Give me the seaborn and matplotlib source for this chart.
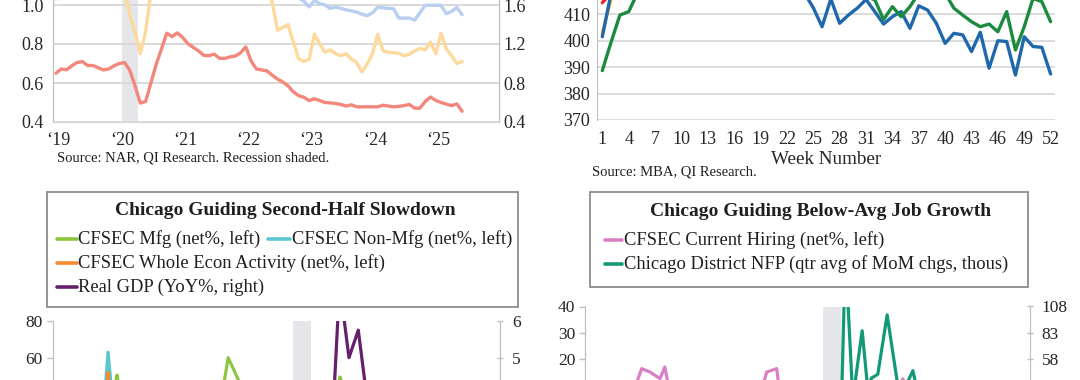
import matplotlib
matplotlib.use("Agg")
import matplotlib.pyplot as plt
from matplotlib.lines import Line2D
from matplotlib.patches import Rectangle
import pandas as pd
import seaborn as sns

W, H = 1080, 380

# ---------- top-left: monthly ratios, index 0 = Jan 2019 ----------
tl_months = list(range(78))
tl_red = [0.650, 0.672, 0.668, 0.688, 0.705, 0.710, 0.690, 0.690, 0.678, 0.667,
          0.672, 0.688, 0.700, 0.705, 0.665, 0.585, 0.497, 0.505, 0.600, 0.695,
          0.774, 0.855, 0.838, 0.857, 0.834, 0.802, 0.783, 0.765, 0.742, 0.740,
          0.748, 0.727, 0.726, 0.734, 0.738, 0.755, 0.785, 0.712, 0.672, 0.667,
          0.662, 0.640, 0.620, 0.605, 0.585, 0.555, 0.535, 0.527, 0.510, 0.519,
          0.510, 0.500, 0.498, 0.495, 0.490, 0.482, 0.488, 0.478, 0.478, 0.478,
          0.478, 0.478, 0.486, 0.482, 0.478, 0.480, 0.484, 0.490, 0.471, 0.471,
          0.505, 0.528, 0.511, 0.500, 0.492, 0.484, 0.493, 0.455]
tl_yellow = [1.66, 1.74, 1.78, 1.80, 1.82, 1.85, 1.83, 1.80, 1.78, 1.76,
             1.75, 1.78, 1.80, 1.75, 1.50, 1.32, 1.10, 1.33, 1.72, 1.95,
             2.05, 2.10, 2.08, 2.05, 2.00, 1.98, 1.95, 1.92, 1.90, 1.88,
             1.86, 1.85, 1.84, 1.84, 1.83, 1.82, 1.84, 1.88, 1.80, 1.78,
             1.74, 1.63, 1.34, 1.37, 1.40, 1.22, 1.05, 1.02, 1.045, 1.30,
             1.20, 1.115, 1.14, 1.10, 1.08, 1.10, 1.045, 1.01, 0.915, 0.995,
             1.10, 1.30, 1.13, 1.115, 1.11, 1.105, 1.08, 1.095, 1.13, 1.155,
             1.14, 1.22, 1.10, 1.31, 1.15, 1.08, 1.00, 1.02]
tl_blue = [1.92, 1.93, 1.95, 1.94, 1.96, 1.95, 1.93, 1.92, 1.94, 1.93,
           1.92, 1.95, 1.96, 1.97, 1.95, 1.90, 1.88, 1.93, 1.98, 2.02,
           2.05, 2.04, 2.03, 2.02, 2.01, 1.99, 1.97, 1.96, 1.95, 1.94,
           1.93, 1.92, 1.91, 1.90, 1.92, 1.93, 1.94, 1.96, 1.90, 1.86,
           1.84, 1.82, 1.80, 1.78, 1.76, 1.74, 1.67, 1.638, 1.58, 1.648,
           1.614, 1.60, 1.565, 1.579, 1.565, 1.55, 1.54, 1.528, 1.505, 1.49,
           1.52, 1.578, 1.57, 1.566, 1.562, 1.466, 1.466, 1.466, 1.445, 1.52,
           1.597, 1.597, 1.597, 1.597, 1.51, 1.534, 1.575, 1.50]
tl_year_pos = [0.5, 12.5, 24.5, 36.5, 48.5, 60.5, 72.5]
tl_year_labels = ["\u201819", "\u201820", "\u201821", "\u201822", "\u201823", "\u201824", "\u201825"]

# ---------- top-right: weekly index ----------
weeks = list(range(1, 53))
wk_green = [388.7, 399.5, 409.7, 411.0, 418, 422, 425, 428, 430, 433,
            436, 438, 437, 439, 440, 437, 435, 433, 431, 430,
            428, 427, 425, 424, 422, 421, 420, 419, 418, 417,
            416.5, 415.5, 408.0, 412.9, 409.1, 412.9, 418, 420, 421, 418,
            412.3, 409.7, 407.2, 405.3, 406.3, 403.4, 411.0, 396.5, 405.3, 416.0,
            414.8, 407.2]
wk_blue = [401.5, 418, 424, 428, 431, 434, 436, 438, 440, 441,
           442, 443, 444, 443, 442, 441, 440, 438, 436, 434,
           431, 428, 425, 418, 412.5, 405.3, 415.8, 406.6, 409.7, 412.3,
           415.6, 411.0, 406.3, 409.1, 411.0, 404.7, 413.2, 411.6, 406.6, 399.0,
           402.8, 402.2, 395.9, 403.2, 389.6, 400.0, 399.7, 387.0, 401.5, 397.8,
           397.5, 387.4]
wk_yellow = [402.8, 416, 422, 426, 429, 431, 433, 436, 438, 440,
             441, 443, 444, 445, 446, 447, 446, 445, 444, 443,
             442, 441, 440, 439, 438, 437, 436, 435, 434, 433,
             432, 431, 430, 430, 429, 428, 427, 426, 425, 425,
             424, 423, 423, 422, 421, 421, 420, 420, 421, 422,
             423, 424]
wk_red = [414.4, 418, 424, 428, 432, 435, 438, 440, 442, 444,
          446, 448, 449, 450, 451, 452, 452, 451, 450, 449,
          448, 447, 446, 445, 444, 443, 442, 441, 440, 439,
          438, 437, 436, 435, 434, 433, 432, 431, 430, 430,
          429, 428, 427, 426, 425, 425, 424, 424, 425, 426,
          427, 428]
week_ticks = list(range(1, 53, 3))

# ---------- bottom-left: CFSEC (net%) and GDP yoy ----------
mfg_x = [2013.75, 2014.3, 2014.8, 2015.1, 2015.28, 2015.45, 2016.0, 2016.6, 2017.2, 2017.7,
         2018.1, 2018.26, 2018.6, 2019.0, 2019.6, 2020.25, 2020.6, 2021.0, 2021.26, 2021.5,
         2022.0, 2022.6, 2023.2, 2023.8, 2024.4, 2025.0, 2025.3]
mfg = [10, 20, 15, 30, 50.5, 32, 5, 15, 25, 35,
       40, 60, 45, 20, 0, -38, 10, 30, 49.5, 35,
       20, 5, -10, -5, 0, 10, 5]
nonmfg_x = [2013.75, 2014.25, 2014.6, 2014.92, 2015.04, 2015.17, 2015.6, 2016.2, 2016.8, 2017.4,
            2018.0, 2018.6, 2019.2, 2019.8, 2020.25, 2020.6, 2021.2, 2021.8, 2022.4, 2023.0,
            2023.6, 2024.2, 2024.8, 2025.3]
nonmfg = [20, 28, 25, 32, 63, 34, 22, 18, 30, 26,
          35, 30, 15, 10, -35, 20, 40, 25, 10, 5,
          -5, 0, 8, 2]
whole_x = [2013.75, 2014.3, 2014.7, 2014.96, 2015.04, 2015.12, 2015.5, 2016.1, 2016.7, 2017.3,
           2017.9, 2018.5, 2019.1, 2019.7, 2020.25, 2020.6, 2021.2, 2021.8, 2022.4, 2023.0,
           2023.6, 2024.2, 2024.8, 2025.3]
whole = [15, 22, 20, 30, 52, 30, 18, 12, 22, 20,
         30, 28, 12, 8, -36, 15, 35, 22, 8, 2,
         -8, -4, 5, 0]
gdp_quarters = pd.period_range("2013Q4", "2025Q2", freq="Q")
gdp_yoy = [2.6, 1.5, 2.6, 3.1, 2.6, 3.6, 3.3, 2.4, 2.0, 1.6,
           1.3, 1.6, 2.0, 2.0, 2.2, 2.4, 2.7, 2.9, 3.1, 3.1,
           2.5, 2.3, 2.1, 2.4, 2.6, 0.6, -7.5, -1.5, -1.1, 2.1,
           7.0, 5.0, 5.75, 3.75, 2.0, 1.9, 1.3, 2.3, 2.8, 3.2,
           3.2, 2.9, 3.0, 2.7, 2.5, 2.0, 2.1]
gdp_x = [q.year + (q.quarter - 1) / 4 for q in gdp_quarters]

# ---------- bottom-right: hiring (net%) and NFP ----------
hiring_x = [2013.75, 2014.2, 2014.55, 2014.85, 2015.14, 2015.36, 2015.63, 2015.76, 2015.95, 2016.4,
            2016.9, 2017.4, 2017.9, 2018.3, 2018.49, 2018.76, 2018.9, 2019.3, 2019.8, 2020.2,
            2020.5, 2020.9, 2021.4, 2021.9, 2022.14, 2022.4, 2022.9, 2023.4, 2023.9, 2024.4,
            2024.9, 2025.3]
hiring = [2, 8, 4, 5, 16.4, 15.1, 12.6, 17.0, 3, 6,
          0, 8, 4, 5, 15.1, 16.4, 0, 5, -5, -20,
          -35, -10, 8, 5, 12.5, 3, -5, -10, -15, -8,
          -12, -10]
nfp_x = [2020.5, 2020.6, 2020.8, 2021.05, 2021.2, 2021.3, 2021.47, 2021.72, 2021.98, 2022.12,
         2022.41, 2022.55, 2022.8, 2023.1, 2023.4, 2023.7, 2024.0, 2024.3, 2024.6, 2024.9,
         2025.2, 2025.4]
nfp = [20, 160, 20, 85, 30, 40, 43.6, 100, 39, 25,
       47, 25, 30, 20, 28, 15, 22, 10, 18, 5,
       12, 8]

sns.set_style("white")
plt.rcParams["font.family"] = ["Liberation Serif", "DejaVu Serif"]
plt.rcParams["text.color"] = "#1f1f1f"

GRID = "#d9d9d9"
SPINE = "#bfbfbf"
SHADE = "#e4e6e9"
TXT = "#262626"

fig = plt.figure(figsize=(W / 100, H / 100), dpi=100)


def box(x0, y0, x1, y1):
    # pixel box -> figure fraction rect
    return [x0 / W, 1 - y1 / H, (x1 - x0) / W, (y1 - y0) / H]


# ---------------- top-left ----------------
ax = fig.add_axes(box(53, -34, 499.3, 122))
ax2 = ax.twinx()
ax.axvspan(12.5, 15.5, color=SHADE, lw=0, zorder=0)
sns.lineplot(x=tl_months, y=tl_red, ax=ax, color="#f4877c", lw=2.4)
sns.lineplot(x=tl_months, y=tl_yellow, ax=ax2, color="#fdd99b", lw=2.4)
sns.lineplot(x=tl_months, y=tl_blue, ax=ax2, color="#b9cfef", lw=2.4)
ax.set_xlim(-0.56, 84.05)
ax.set_ylim(0.4, 1.2)
ax2.set_ylim(0.4, 2.0)
# only the ticks that fall inside the cropped view
ax.set_yticks([0.4, 0.6, 0.8, 1.0])
ax2.set_yticks([0.4, 0.8, 1.2, 1.6])
ax.set_xticks(tl_year_pos, tl_year_labels)
ax.yaxis.grid(True, color=GRID, lw=1.4)
ax.set_axisbelow(True)
for a in (ax, ax2):
    a.tick_params(length=0, labelsize=13, colors=TXT)
    a.spines["top"].set_visible(False)
    a.spines["bottom"].set_color(GRID)
    a.spines["left"].set_color(SPINE)
    a.spines["right"].set_color(SPINE)
ax.tick_params(axis="y", pad=6.8)
ax.tick_params(axis="x", pad=7.5)
ax2.tick_params(axis="y", pad=3)
fig.text(57 / W, 1 - 158 / H, "Source: NAR, QI Research. Recession shaded.",
         fontsize=10.5, ha="left", va="center")

# ---------------- top-right ----------------
ax = fig.add_axes(box(597.3, -65, 1055, 120))
sns.lineplot(x=weeks, y=wk_red, ax=ax, color="#e8262b", lw=2.4)
sns.lineplot(x=weeks, y=wk_yellow, ax=ax, color="#f9b730", lw=2.4)
sns.lineplot(x=weeks, y=wk_blue, ax=ax, color="#1f68ae", lw=2.4)
sns.lineplot(x=weeks, y=wk_green, ax=ax, color="#1e8a40", lw=2.4)
ax.set_xlim(0.43, 52.5)
ax.set_ylim(370, 440)
ax.set_yticks(range(370, 411, 10))
ax.set_xticks(week_ticks)
ax.yaxis.grid(True, color=GRID, lw=1.3)
ax.set_axisbelow(True)
ax.tick_params(length=0, labelsize=13, colors=TXT)
ax.tick_params(axis="y", pad=5)
ax.tick_params(axis="x", pad=8)
for s in ("top", "right", "bottom"):
    ax.spines[s].set_visible(False)
ax.spines["left"].set_color(SPINE)
ax.set_xlabel("Week Number", fontsize=13.8, color=TXT)
ax.xaxis.set_label_coords(0.5, -40 / 185)
ax.xaxis.label.set_va("center")
fig.text(592 / W, 1 - 172 / H, "Source: MBA, QI Research.",
         fontsize=10.5, ha="left", va="center")

# ---------------- bottom-left ----------------
ax = fig.add_axes(box(52.5, 321, 500, 541))
ax2 = ax.twinx()
ax.axvspan(2020.0, 2020.48, color=SHADE, lw=0, zorder=0)
sns.lineplot(x=mfg_x, y=mfg, ax=ax, color="#8cc63f", lw=2.3)
sns.lineplot(x=nonmfg_x, y=nonmfg, ax=ax, color="#5ac6d0", lw=2.3)
sns.lineplot(x=whole_x, y=whole, ax=ax, color="#f7892f", lw=2.3)
sns.lineplot(x=gdp_x, y=gdp_yoy, ax=ax2, color="#66206b", lw=2.3)
ax.set_xlim(2013.55, 2025.55)
ax.set_ylim(-40, 80)
ax2.set_ylim(0, 6)
ax.set_yticks([60, 80])
ax2.set_yticks([5, 6])

# ---------------- bottom-right ----------------
bx = fig.add_axes(box(585, 306.5, 1030, 517))
bx2 = bx.twinx()
bx.axvspan(2020.0, 2020.48, color=SHADE, lw=0, zorder=0)
sns.lineplot(x=hiring_x, y=hiring, ax=bx, color="#d880c6", lw=2.3)
sns.lineplot(x=nfp_x, y=nfp, ax=bx2, color="#129a78", lw=2.3)
bx.set_xlim(2013.62, 2025.55)
bx.set_ylim(-40, 40)
bx2.set_ylim(-92, 108)
bx.set_yticks([10, 20, 30, 40])
bx2.set_yticks([33, 58, 83, 108])

for a, a2 in ((ax, ax2), (bx, bx2)):
    for s in (a, a2):
        s.spines["top"].set_visible(False)
        s.spines["bottom"].set_visible(False)
        s.spines["left"].set_color(SPINE)
        s.spines["right"].set_color(SPINE)
        s.set_xticks([])
    a.tick_params(axis="y", length=4, width=1, color=SPINE, labelsize=12.5,
                  labelcolor=TXT, pad=3)
    a2.tick_params(axis="y", direction="inout", length=5, width=1, color=SPINE,
                   labelsize=12.5, labelcolor=TXT, pad=6)

# ---------------- legend boxes ----------------
def legend_box(x0, y0, x1, y1):
    fig.add_artist(Rectangle((x0 / W, 1 - y1 / H), (x1 - x0) / W, (y1 - y0) / H,
                             transform=fig.transFigure, facecolor="white",
                             edgecolor="#8c8c8c", lw=1.3, zorder=5))


def legend_entry(x, y, color, label, hlen):
    fig.add_artist(Line2D([x / W, (x + hlen) / W], [1 - y / H, 1 - y / H],
                          transform=fig.transFigure, color=color, lw=2.6, zorder=6))
    fig.text((x + hlen + 1.5) / W, 1 - y / H, label, fontsize=13.3,
             ha="left", va="center", zorder=6)


legend_box(46.7, 191.7, 517.7, 307.3)
fig.text(285 / W, 1 - 211 / H, "Chicago Guiding Second-Half Slowdown",
         fontsize=14, fontweight="bold", ha="center", va="center", zorder=6)
legend_entry(57, 239, "#8cc63f", "CFSEC Mfg (net%, left)", 20)
legend_entry(268, 239, "#5ac6d0", "CFSEC Non-Mfg (net%, left)", 22)
legend_entry(57, 263, "#f7892f", "CFSEC Whole Econ Activity (net%, left)", 20)
legend_entry(57, 287, "#66206b", "Real GDP (YoY%, right)", 20)

legend_box(590, 191.7, 1028, 287)
fig.text(821 / W, 1 - 212 / H, "Chicago Guiding Below-Avg Job Growth",
         fontsize=14, fontweight="bold", ha="center", va="center", zorder=6)
legend_entry(605, 240, "#d880c6", "CFSEC Current Hiring (net%, left)", 17)
legend_entry(605, 264, "#129a78", "Chicago District NFP (qtr avg of MoM chgs, thous)", 17)

fig.savefig("out.png", dpi=100)
